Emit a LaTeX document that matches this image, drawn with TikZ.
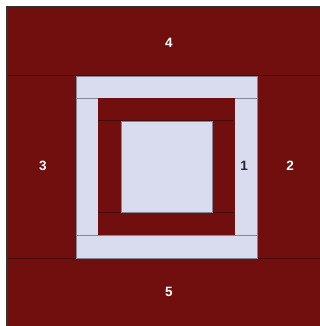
\documentclass[tikz,border=0pt]{standalone}
\usepackage{fontspec}
\setmainfont{Liberation Sans}
\definecolor{maroon}{RGB}{112,15,14}
\definecolor{lav}{RGB}{216,220,238}
\definecolor{seam}{RGB}{70,10,10}
\definecolor{lseam}{RGB}{130,134,150}
\begin{document}
\begin{tikzpicture}[x=1pt,y=-1pt,
  redpatch/.style={fill=maroon,draw=none},
  lightpatch/.style={fill=lav,draw=lseam,line width=0.5pt},
  num/.style={font=\bfseries\fontsize{13.5}{13.5}\selectfont,text=white},
  numdark/.style={font=\bfseries\fontsize{13.5}{13.5}\selectfont,text=black!85}]
\useasboundingbox (0,0) rectangle (320,326);
\fill[white] (0,0) rectangle (320,326);
% outer bands
\fill[black!80] (6,6) rectangle (320,326);
\fill[maroon] (7.5,7.5) rectangle (320,326);
\draw[seam,line width=0.6pt] (7.5,75) -- (320,75);
\draw[seam,line width=0.6pt] (7.5,258) -- (320,258);
% light frame
\path[lightpatch] (76,76) rectangle (257,258);
\draw[lseam,line width=0.6pt] (76,98) -- (257,98);
\draw[lseam,line width=0.6pt] (76,235) -- (257,235);
% inner red frame
\path[redpatch] (98,98) rectangle (235,235);
\draw[seam,line width=0.6pt] (98,120) -- (233,120);
\draw[seam,line width=0.6pt] (98,212) -- (233,212);
% centre
\path[lightpatch] (121,121) rectangle (212,212);
% labels
\node[num] (n4) at (169,43) {4};
\node[num] (n5) at (169,292) {5};
\node[num] (n3) at (43,166) {3};
\node[num] (n2) at (290,166) {2};
\node[numdark] (n1) at (244,166) {1};
\end{tikzpicture}
\end{document}
